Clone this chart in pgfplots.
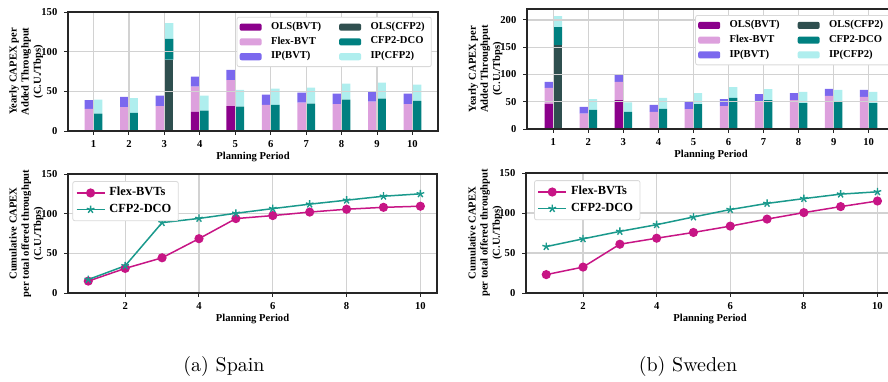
\documentclass[border=0pt]{standalone}
\usepackage{fontspec}
\usepackage{pgfplots}
\pgfplotsset{compat=1.18}
\usepackage{pgfplotstable}
\newfontfamily\tnr{Liberation Serif}
\newcommand\lf{\tnr\bfseries\fontsize{5.3}{6.1}\selectfont}
\newcommand\lgf{\tnr\bfseries\fontsize{6.2}{7}\selectfont}
\definecolor{olsb}{HTML}{8B008B}
\definecolor{flexb}{HTML}{DDA0DD}
\definecolor{ipb}{HTML}{7B68EE}
\definecolor{olsc}{HTML}{2F4F4F}
\definecolor{dco}{HTML}{008080}
\definecolor{ipc}{HTML}{AFEEEE}
\definecolor{lflex}{HTML}{C71585}
\definecolor{ldco}{HTML}{1A998C}

% x OLS Flex IP  (BVT stacks)
\pgfplotstableread{
x ols flex ip
1 0 28 11
2 0 30 13
3 0 31.5 13
4 24 32 12.5
5 31.5 32.5 13
6 0 33 13
7 0 35.7 12.6
8 0 34 13
9 0 37 12.5
10 0 34 13
}\spainbvt
\pgfplotstableread{
x ols dco ip
1 0 22 17.5
2 0 23 18.6
3 90 26 20
4 0 25.6 18.9
5 0 30.7 21
6 0 33 20.4
7 0 34.4 20.2
8 0 39.5 20.2
9 0 40.7 20.3
10 0 38 20.4
}\spaincfp
\pgfplotstableread{
x ols flex ip
1 46 29.5 11
2 0 28 12.7
3 53 33.5 12.5
4 0 31.6 12.8
5 0 36.6 12.8
6 0 42 13
7 0 51 13
8 0 53 13
9 0 60.7 12.8
10 0 58.8 12.9
}\swedenbvt
\pgfplotstableread{
x ols dco ip
1 154 33 20
2 0 35 20
3 0 31.6 17.4
4 0 37 20
5 0 45.7 20.3
6 0 57 20
7 0 53 20
8 0 47.5 20.5
9 0 49.4 22.3
10 0 47.5 20.5
}\swedencfp
\pgfplotstableread{
x flex dco
1 15 17
2 31 34.3
3 44.4 88.7
4 68.5 94
5 93.8 100.5
6 97.6 106.4
7 102 112
8 105.6 117
9 108 122
10 109.4 125
}\spaincum
\pgfplotstableread{
x flex dco
1 23 58
2 32.4 67.7
3 61 77
4 68.5 85.4
5 75.7 95
6 83.6 104.3
7 92.4 112
8 100.5 118
9 108 123.6
10 115 126.5
}\swedencum

\pgfplotsset{
  common/.style={scale only axis, axis line style={black!85, line width=0.6pt},
    grid=major, grid style={gray!35, line width=0.6pt},
    tick align=outside, major tick length=1.8pt, tick style={black!85, line width=0.5pt},
    xtick pos=left, ytick pos=left,
    ticklabel style={font=\lf}, /pgf/number format/assume math mode=true,
    label style={font=\lf, align=center}, ymin=0,
    xticklabel style={yshift=0.5pt},
    xlabel style={yshift=4.5pt},
    ylabel style={at={(axis description cs:-0.113,0.5)}, anchor=center}},
  barax/.style={common, xtick={1,...,10}, ybar stacked, bar width=0.25, axis on top},
  barleg/.style={legend columns=2,
    legend image code/.code={\fill[##1, draw=none] (0pt,-1.8pt) rectangle (11pt,1.8pt); \path (13.5pt,0pt);},
    legend style={draw=gray!30, rounded corners=1pt, fill=white, font=\lf,
      inner sep=1.3pt, row sep=0pt, nodes={inner ysep=1.1pt},
      /tikz/every even column/.append style={column sep=7pt}},
    legend cell align=left},
  lineax/.style={common, xtick={2,4,...,10}, ytick={0,50,100,150}, ymax=150,
    xmin=0.45, xmax=10.45, xlabel={Planning Period},
    ylabel={Cumulative CAPEX\\per total offered throughput\\(C.U./Tbps)},
    legend image code/.code={\draw[mark repeat=2,mark phase=2,##1] plot coordinates {(0pt,0pt)(7pt,0pt)(14pt,0pt)};},
    legend style={draw=gray!30, rounded corners=1pt, fill=white, font=\lgf, inner sep=1.5pt, row sep=0pt,
      nodes={inner ysep=1.3pt}},
    legend cell align=left},
  flexl/.style={lflex, line width=0.75pt, mark=*, mark size=1.9pt, mark options={solid, fill=lflex}},
  dcol/.style={ldco, line width=0.75pt, mark=star, mark size=2pt, mark options={solid, line width=0.7pt}},
}

\begin{document}
\begin{tikzpicture}
\useasboundingbox (0,0) rectangle (444pt,-190.5pt);
% ---------- Spain bars ----------
\begin{axis}[barax, at={(34pt,-65.5pt)}, anchor=south west, width=185pt, height=59.5pt,
  xmin=0.28, xmax=10.72, ymax=150, ytick={0,50,100,150}, bar shift=-0.125,
  xlabel={Planning Period}, ylabel={Yearly CAPEX per\\Added Throughput\\(C.U./Tbps)}]
\addplot[fill=olsb, draw=none] table[x=x, y=ols] {\spainbvt};
\addplot[fill=flexb, draw=none] table[x=x, y=flex] {\spainbvt};
\addplot[fill=ipb, draw=none] table[x=x, y=ip] {\spainbvt};
\end{axis}
\begin{axis}[barax, barleg, at={(34pt,-65.5pt)}, anchor=south west, width=185pt, height=59.5pt,
  xmin=0.28, xmax=10.72, ymax=150, ytick={0,50,100,150}, bar shift=0.125,
  xticklabels={}, yticklabels={},
  legend style={at={(0.983,0.96)}, anchor=north east}]
\addlegendimage{fill=olsb}\addlegendentry{OLS(BVT)}
\addlegendimage{fill=olsc}\addlegendentry{OLS(CFP2)}
\addlegendimage{fill=flexb}\addlegendentry{Flex-BVT}
\addlegendimage{fill=dco}\addlegendentry{CFP2-DCO}
\addlegendimage{fill=ipb}\addlegendentry{IP(BVT)}
\addlegendimage{fill=ipc}\addlegendentry{IP(CFP2)}
\addplot[fill=olsc, draw=none, forget plot] table[x=x, y=ols] {\spaincfp};
\addplot[fill=dco, draw=none, forget plot] table[x=x, y=dco] {\spaincfp};
\addplot[fill=ipc, draw=none, forget plot] table[x=x, y=ip] {\spaincfp};
\end{axis}
% ---------- Sweden bars ----------
\begin{axis}[barax, at={(263.5pt,-64.5pt)}, anchor=south west, width=184pt, height=60pt,
  xmin=0.25, xmax=10.75, ymax=220, ytick={0,50,100,150,200}, bar shift=-0.125,
  xlabel={Planning Period}, ylabel={Yearly CAPEX per\\Added Throughput\\(C.U./Tbps)}]
\addplot[fill=olsb, draw=none] table[x=x, y=ols] {\swedenbvt};
\addplot[fill=flexb, draw=none] table[x=x, y=flex] {\swedenbvt};
\addplot[fill=ipb, draw=none] table[x=x, y=ip] {\swedenbvt};
\end{axis}
\begin{axis}[barax, barleg, at={(263.5pt,-64.5pt)}, anchor=south west, width=184pt, height=60pt,
  xmin=0.25, xmax=10.75, ymax=220, ytick={0,50,100,150,200}, bar shift=0.125,
  xticklabels={}, yticklabels={},
  legend style={at={(0.457,0.95)}, anchor=north west}]
\addlegendimage{fill=olsb}\addlegendentry{OLS(BVT)}
\addlegendimage{fill=olsc}\addlegendentry{OLS(CFP2)}
\addlegendimage{fill=flexb}\addlegendentry{Flex-BVT}
\addlegendimage{fill=dco}\addlegendentry{CFP2-DCO}
\addlegendimage{fill=ipb}\addlegendentry{IP(BVT)}
\addlegendimage{fill=ipc}\addlegendentry{IP(CFP2)}
\addplot[fill=olsc, draw=none, forget plot] table[x=x, y=ols] {\swedencfp};
\addplot[fill=dco, draw=none, forget plot] table[x=x, y=dco] {\swedencfp};
\addplot[fill=ipc, draw=none, forget plot] table[x=x, y=ip] {\swedencfp};
\end{axis}
% ---------- Spain cumulative ----------
\begin{axis}[lineax, at={(34pt,-146.5pt)}, anchor=south west, width=184.5pt, height=59.5pt,
  legend style={at={(0.012,0.94)}, anchor=north west}]
\addplot[flexl] table[x=x, y=flex] {\spaincum};
\addlegendentry{Flex-BVTs}
\addplot[dcol] table[x=x, y=dco] {\spaincum};
\addlegendentry{CFP2-DCO}
\end{axis}
% ---------- Sweden cumulative ----------
\begin{axis}[lineax, at={(263pt,-146.5pt)}, anchor=south west, width=184pt, height=60pt,
  ylabel style={at={(axis description cs:-0.111,0.5)}},
  legend style={at={(0.022,0.94)}, anchor=north west}]
\addplot[flexl] table[x=x, y=flex] {\swedencum};
\addlegendentry{Flex-BVTs}
\addplot[dcol] table[x=x, y=dco] {\swedencum};
\addlegendentry{CFP2-DCO}
\end{axis}
\node at (112pt,-183pt) {(a) Spain};
\node at (344pt,-183pt) {(b) Sweden};
\end{tikzpicture}
\end{document}
